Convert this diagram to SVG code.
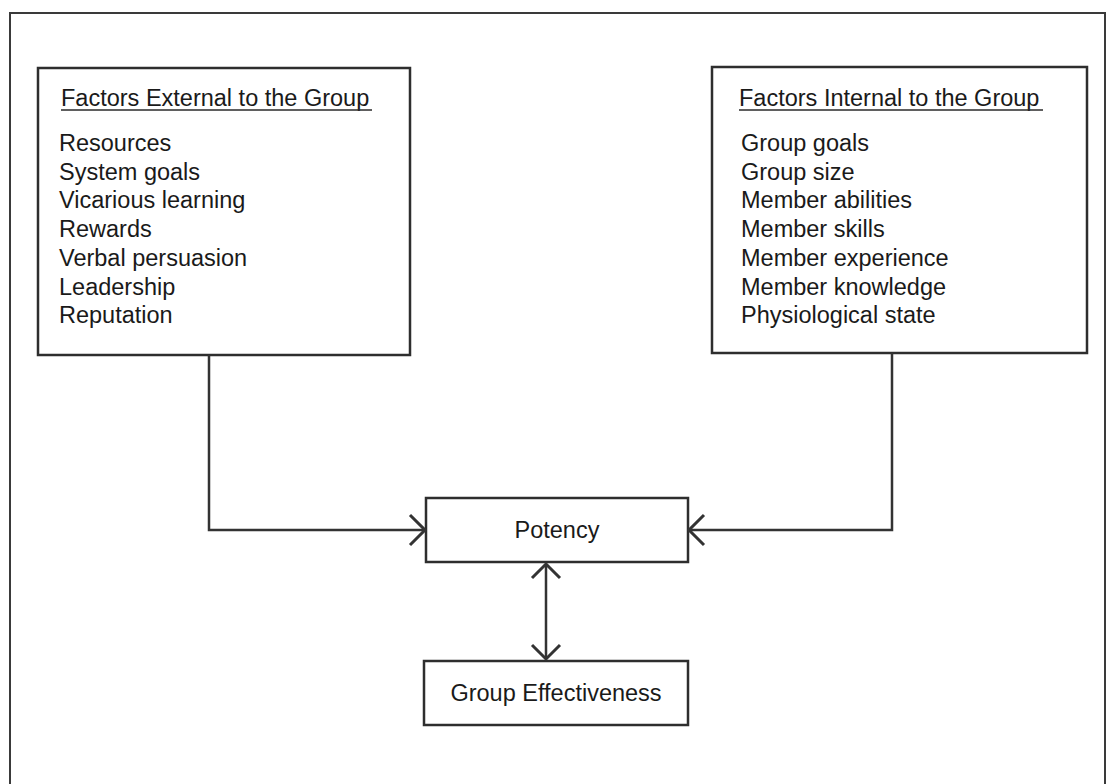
<svg xmlns="http://www.w3.org/2000/svg" width="1107" height="784" viewBox="0 0 1107 784">
  <defs>
    <style>
      .frame { fill: none; stroke: #3a3a3a; stroke-width: 2; }
      .box { fill: #ffffff; stroke: #2e2e2e; stroke-width: 2.5; }
      .txt { font-family: "Liberation Sans", Arial, sans-serif; font-size: 23.5px; fill: #1a1a1a; }
      .ul { stroke: #2a2a2a; stroke-width: 1.6; }
      .conn { fill: none; stroke: #333333; stroke-width: 2.5; stroke-linejoin: miter; }
      .head { fill: none; stroke: #333333; stroke-width: 3; stroke-linecap: butt; stroke-linejoin: miter; }
    </style>
  </defs>
  <rect width="1107" height="784" fill="#ffffff"/>

  <!-- page frame -->
  <rect class="frame" x="10" y="13" width="1095" height="800"/>

  <!-- external factors -->
  <g id="external">
    <rect class="box" x="38" y="68" width="372" height="287"/>
    <text class="txt" x="61" y="106">Factors External to the Group</text>
    <line class="ul" x1="61" y1="110" x2="372" y2="110"/>
    <text class="txt" x="59" y="151">Resources</text>
    <text class="txt" x="59" y="179.7">System goals</text>
    <text class="txt" x="59" y="208.4">Vicarious learning</text>
    <text class="txt" x="59" y="237.1">Rewards</text>
    <text class="txt" x="59" y="265.8">Verbal persuasion</text>
    <text class="txt" x="59" y="294.5">Leadership</text>
    <text class="txt" x="59" y="323.2">Reputation</text>
  </g>

  <!-- internal factors -->
  <g id="internal">
    <rect class="box" x="712" y="67" width="375" height="286"/>
    <text class="txt" x="739" y="106">Factors Internal to the Group</text>
    <line class="ul" x1="739" y1="110" x2="1043" y2="110"/>
    <text class="txt" x="741" y="151">Group goals</text>
    <text class="txt" x="741" y="179.7">Group size</text>
    <text class="txt" x="741" y="208.4">Member abilities</text>
    <text class="txt" x="741" y="237.1">Member skills</text>
    <text class="txt" x="741" y="265.8">Member experience</text>
    <text class="txt" x="741" y="294.5">Member knowledge</text>
    <text class="txt" x="741" y="323.2">Physiological state</text>
  </g>

  <!-- potency -->
  <g id="potency">
    <rect class="box" x="426" y="498" width="262" height="64"/>
    <text class="txt" x="557" y="538" text-anchor="middle">Potency</text>
  </g>

  <!-- group effectiveness -->
  <g id="effectiveness">
    <rect class="box" x="424" y="661" width="264" height="64"/>
    <text class="txt" x="556" y="701" text-anchor="middle">Group Effectiveness</text>
  </g>

  <!-- connectors -->
  <g id="connectors">
    <polyline class="conn" points="209,355 209,530 425,530"/>
    <polyline class="head" points="410,515 425,530 410,545"/>

    <polyline class="conn" points="892,353 892,530 689,530"/>
    <polyline class="head" points="704,515 689,530 704,545"/>

    <line class="conn" x1="546" y1="564" x2="546" y2="659"/>
    <polyline class="head" points="532,578 546,564 560,578"/>
    <polyline class="head" points="532,645 546,659 560,645"/>
  </g>
</svg>
